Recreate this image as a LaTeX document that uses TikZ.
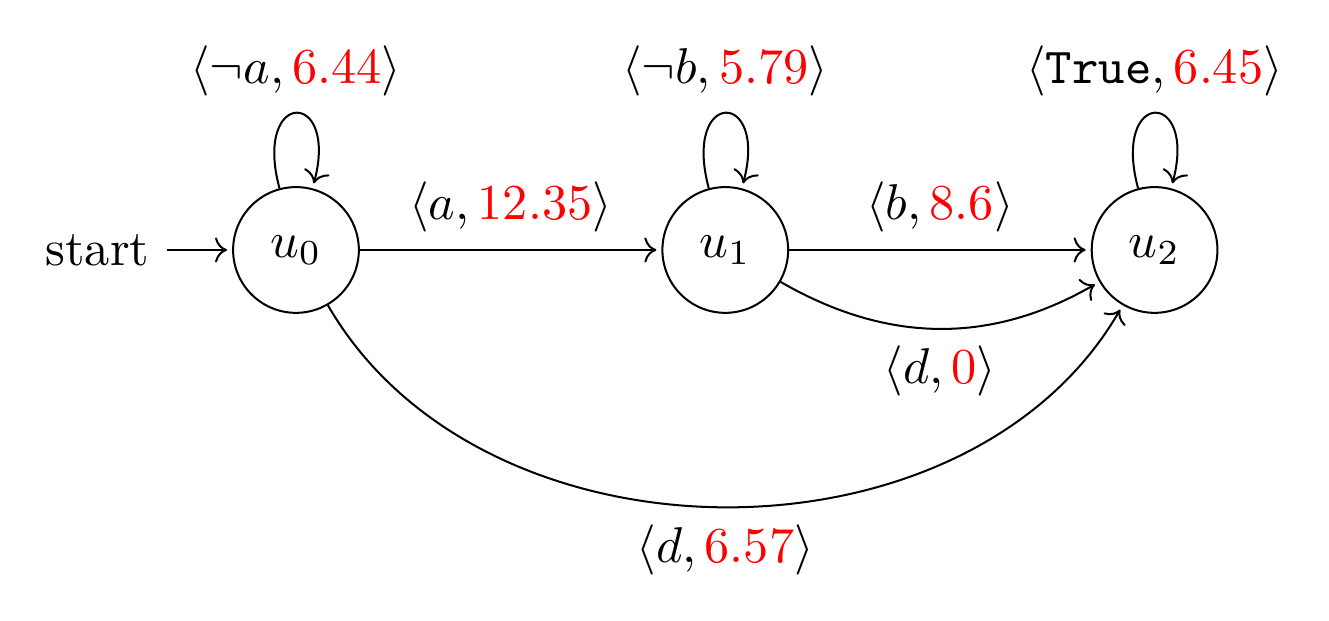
\documentclass[tikz,border=0pt]{standalone}
\usetikzlibrary{automata,positioning,arrows.meta}
\tikzset{
  stnode/.style={state},
  trans/.style={-{Computer Modern Rightarrow[length=2.4pt,width=5pt]}, shorten >=1pt},
  every initial by arrow/.style={-{Computer Modern Rightarrow[length=2.4pt,width=5pt]}, shorten >=1pt},
}
\newcommand{\wt}[1]{\textcolor{red}{#1}}
\begin{document}
\begin{tikzpicture}[auto, node distance=3cm]
\useasboundingbox (-58.85pt,-73.6pt) rectangle (205.4pt,49.7pt);
\node[stnode, initial, initial text=start] (u0) at (0,0) {$u_0$};
\node[stnode] (u1) at (3cm,0) {$u_1$};
\node[stnode] (u2) at (6cm,0) {$u_2$};
\path[trans]
  (u0) edge[loop above] node {$\langle \neg a, \wt{6.44}\rangle$} (u0)
  (u0) edge node {$\langle a, \wt{12.35}\rangle$} (u1)
  (u0) edge[bend right=60] node[swap] {$\langle d, \wt{6.57}\rangle$} (u2)
  (u1) edge[loop above] node {$\langle \neg b, \wt{5.79}\rangle$} (u1)
  (u1) edge node {$\langle b, \wt{8.6}\rangle$} (u2)
  (u1) edge[bend right] node[swap] {$\langle d, \wt{0}\rangle$} (u2)
  (u2) edge[loop above] node {$\langle \texttt{True}, \wt{6.45}\rangle$} (u2);
\end{tikzpicture}
\end{document}
